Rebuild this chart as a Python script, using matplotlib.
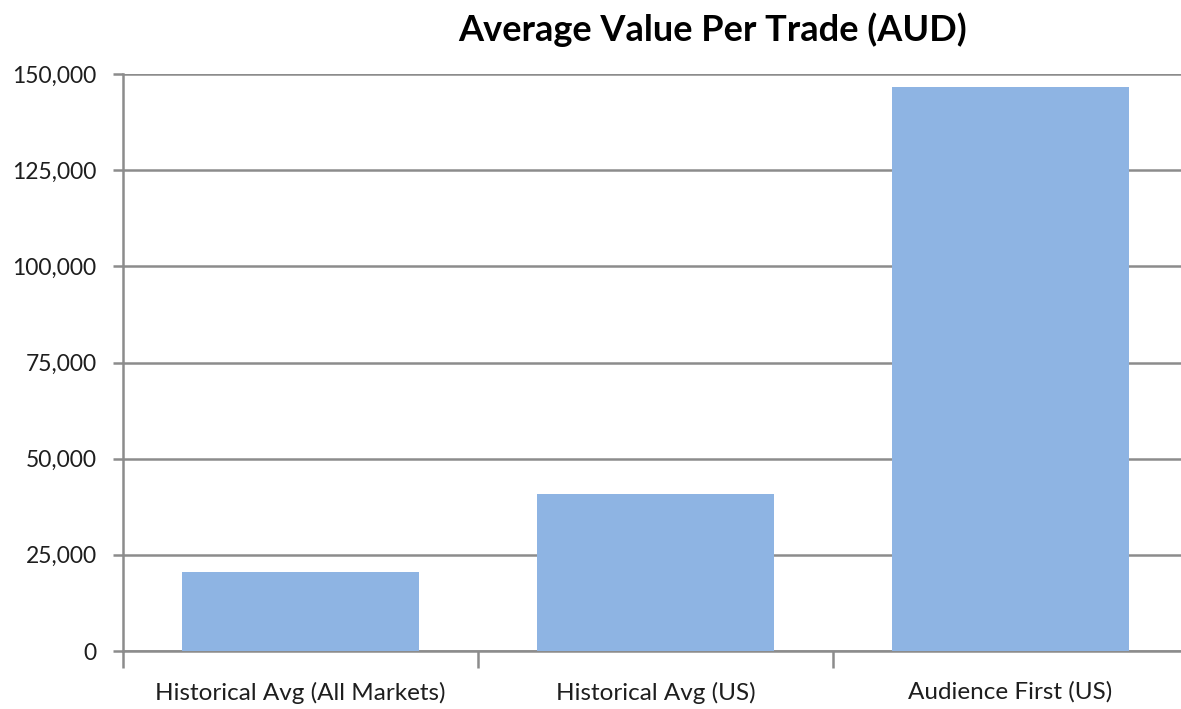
import matplotlib.pyplot as plt
from matplotlib.ticker import FuncFormatter

# data
categorias = ['Historical Avg (All Markets)', 'Historical Avg (US)', 'Audience First (US)']
valores = [20500, 40800, 146600]
ticks_y = [0, 25000, 50000, 75000, 100000, 125000, 150000]

plt.rcParams['font.family'] = ['Lato', 'DejaVu Sans']

fig = plt.figure(figsize=(11.81, 7.09), dpi=100)
ax = fig.add_axes([123/1181, 1 - 651/709, 1065/1181, (651 - 74)/709])

ax.bar(range(len(categorias)), valores, width=0.667, color='#8EB4E3', zorder=3)

ax.set_xlim(-0.5, 2.5)
ax.set_ylim(0, 150000)
ax.set_yticks(ticks_y)
ax.yaxis.set_major_formatter(FuncFormatter(lambda v, p: f'{int(v):,}'))
ax.set_xticks(range(len(categorias)))
ax.set_xticklabels(categorias)
ax.set_xticks([-0.5, 0.5, 1.5, 2.5], minor=True)

ax.grid(axis='y', color='#8c8c8c', linewidth=1.8, zorder=0)
for s in ['top', 'right']:
    ax.spines[s].set_visible(False)
for s in ['left', 'bottom']:
    ax.spines[s].set_color('#8c8c8c')
    ax.spines[s].set_linewidth(1.8)

ax.tick_params(axis='y', length=7, width=1.8, color='#8c8c8c', labelsize=16.5, labelcolor='#1e1e1e', pad=12)
ax.tick_params(axis='x', which='major', length=0, labelsize=17.5, labelcolor='#1e1e1e', pad=22)
ax.tick_params(axis='x', which='minor', length=12, width=1.8, color='#8c8c8c')

fig.text(713/1181, 1 - 30/709, 'Average Value Per Trade (AUD)', ha='center', va='center',
         fontsize=26, fontweight='bold', color='#000000')

fig.savefig('out.png', dpi=100)
